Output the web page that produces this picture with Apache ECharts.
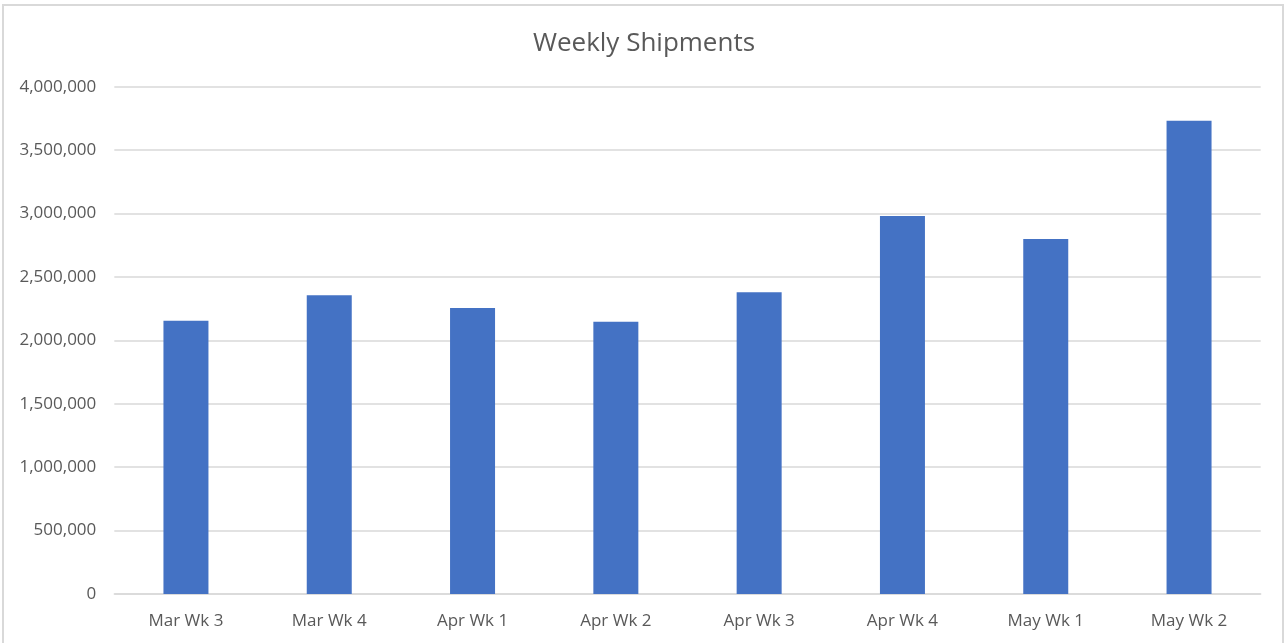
<!DOCTYPE html>
<html>
<head>
<meta charset="utf-8">
<script src="https://cdn.jsdelivr.net/npm/echarts@6/dist/echarts.min.js"></script>
<style>
html,body{margin:0;padding:0;background:#fff;}
#chart{width:1288px;height:643px;}
</style>
</head>
<body>
<div id="chart"></div>
<script>
const categories = ['Mar Wk 3','Mar Wk 4','Apr Wk 1','Apr Wk 2','Apr Wk 3','Apr Wk 4','May Wk 1','May Wk 2'];
const shipments = [2155000, 2355000, 2255000, 2147000, 2379000, 2980000, 2799000, 3732000];
const yTicks = [0, 500000, 1000000, 1500000, 2000000, 2500000, 3000000, 3500000, 4000000];

const FONT = '"Open Sans", "Noto Sans", sans-serif';
const chart = echarts.init(document.getElementById('chart'), null, {renderer:'canvas'});
chart.setOption({
  backgroundColor: '#fff',
  animation: false,
  title: {
    text: 'Weekly Shipments',
    left: 'center',
    top: 26,
    textStyle: {fontFamily: FONT, fontSize: 26, fontWeight: 'normal', color: '#595959'}
  },
  graphic: [{
    type: 'rect',
    shape: {x: 3, y: 5, width: 1280, height: 660},
    style: {fill: 'none', stroke: '#D9D9D9', lineWidth: 2},
    silent: true
  }],
  grid: {left: 114.3, right: 27.3, top: 86.7, bottom: 49, containLabel: false},
  xAxis: {
    type: 'category',
    data: categories,
    axisLine: {show: true, lineStyle: {color: '#D9D9D9', width: 1.5}},
    axisTick: {show: false},
    axisLabel: {fontFamily: FONT, fontSize: 17, color: '#595959', margin: 19}
  },
  yAxis: {
    type: 'value',
    min: yTicks[0],
    max: yTicks[yTicks.length - 1],
    interval: yTicks[1] - yTicks[0],
    axisLine: {show: false},
    axisTick: {show: false},
    splitLine: {lineStyle: {color: '#D9D9D9', width: 1.5}},
    axisLabel: {
      fontFamily: FONT, fontSize: 17, color: '#595959', margin: 18,
      formatter: v => v.toLocaleString('en-US')
    }
  },
  series: [{
    type: 'bar',
    data: shipments,
    barWidth: 45,
    itemStyle: {color: '#4472C4'}
  }]
});
</script>
</body>
</html>
